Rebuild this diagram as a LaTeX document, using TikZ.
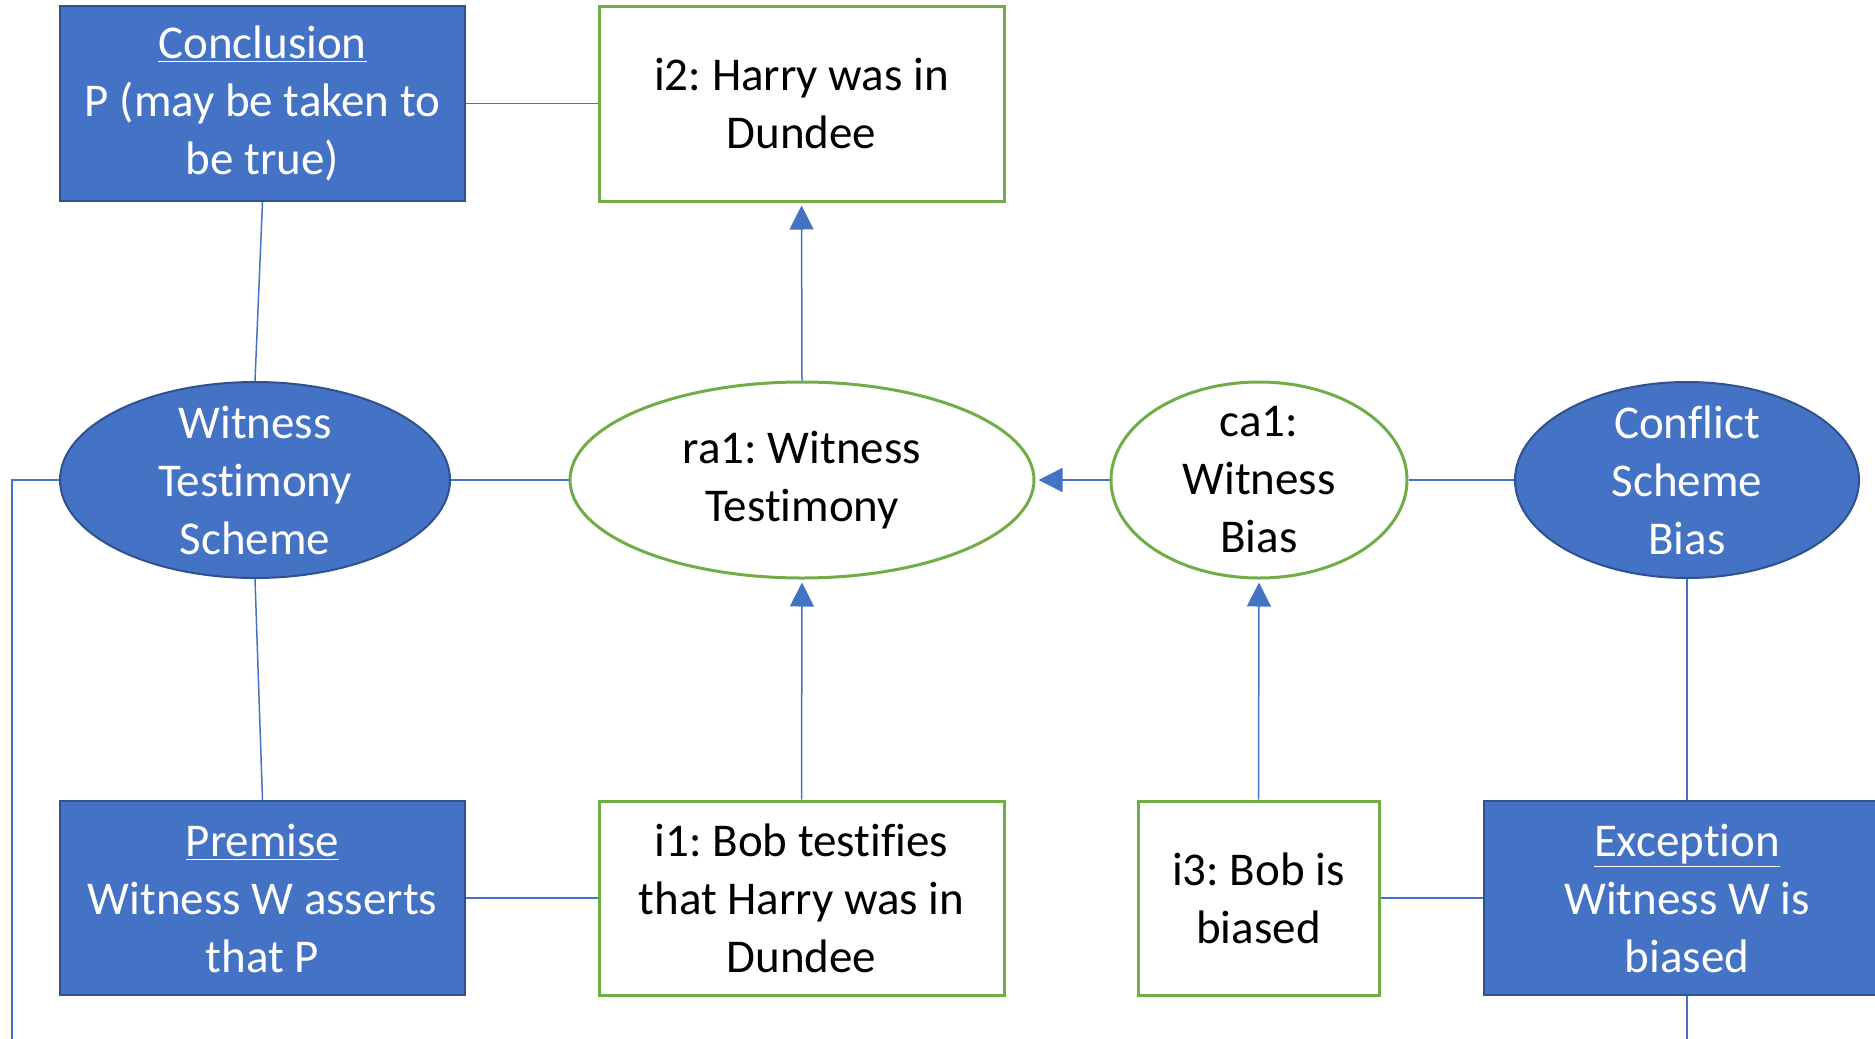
\documentclass[tikz,border=0pt]{standalone}
\usepackage{fontspec}
\setmainfont{Carlito}[Ligatures=NoCommon]
\usetikzlibrary{shapes.geometric,arrows.meta}

\definecolor{schemefill}{HTML}{4472C4}
\definecolor{schemeedge}{HTML}{2F528F}
\definecolor{infoedge}{HTML}{70AD47}
\definecolor{linkblue}{HTML}{4472C4}

\tikzset{
  basetext/.style={font=\fontsize{23.5pt}{29pt}\selectfont\frenchspacing, align=center, inner sep=0pt},
  schemebox/.style={basetext, rectangle, fill=schemefill, draw=schemeedge, line width=1pt, text=white},
  infobox/.style={basetext, rectangle, fill=white, draw=infoedge, line width=1.5pt, text=black},
  schemeell/.style={basetext, ellipse, inner ysep=-20pt, fill=schemefill, draw=schemeedge, line width=1pt, text=white},
  infoell/.style={basetext, ellipse, inner ysep=-20pt, fill=white, draw=infoedge, line width=1.5pt, text=black},
  link/.style={draw=linkblue, line width=0.75pt},
  support/.style={link, -{Triangle[width=12pt,length=12pt]}, shorten >=1.5pt}
}

\begin{document}
\begin{tikzpicture}[x=0.5pt, y=-0.5pt]
  \useasboundingbox (0,0) rectangle (1875,1039);
  \clip (0,0) rectangle (1875,1039);

  % scheme boxes and argument boxes
  \node[schemebox, minimum width=202.5pt, minimum height=97.5pt] (conc) at (262.5,103.5)
    {\underline{Conclusion}\\P (may be taken to\\be true)};
  \node[infobox, minimum width=202.5pt, minimum height=97.5pt] (i2) at (801.5,103.5)
    {i2: Harry was in\\Dundee};
  \node[schemebox, minimum width=202.5pt, minimum height=97pt] (prem) at (262.5,898)
    {\underline{Premise}\\Witness W asserts\\that P};
  \node[infobox, minimum width=202.5pt, minimum height=97pt] (i1) at (801.5,898)
    {i1: Bob testifies\\that Harry was in\\Dundee};
  \node[infobox, minimum width=120.5pt, minimum height=97pt] (i3) at (1258.5,898)
    {i3: Bob is\\biased};
  \node[schemebox, minimum width=203pt, minimum height=97pt] (exc) at (1687,898)
    {\underline{Exception}\\Witness W is\\biased};

  % scheme ellipses and inference nodes
  \node[schemeell, minimum width=195pt, minimum height=98pt] (wts) at (255,480)
    {Witness\\Testimony\\Scheme};
  \node[infoell, minimum width=232pt, minimum height=98pt] (ra1) at (802,480)
    {ra1: Witness\\Testimony};
  \node[infoell, minimum width=148pt, minimum height=98pt] (ca1) at (1259,480)
    {ca1:\\Witness\\Bias};
  \node[schemeell, minimum width=172pt, minimum height=98pt] (csb) at (1687,480)
    {Conflict\\Scheme\\Bias};

  % plain links between scheme parts and instances
  \draw[link] (conc.east) -- (i2.west);
  \draw[link] (conc.south) -- (wts.north);
  \draw[link] (wts.south) -- (prem.north);
  \draw[link] (wts.east) -- (ra1.west);
  \draw[link] (prem.east) -- (i1.west);
  \draw[link] (ca1.east) -- (csb.west);
  \draw[link] (csb.south) -- (exc.north);
  \draw[link] (i3.east) -- (exc.west);

  % link running round the bottom from the scheme to its exception
  \coordinate (loopL) at (12,1080);
  \coordinate (loopR) at (1687,1080);
  \draw[link] (wts.west) -| (loopL) -- (loopR) -- (exc.south);

  % support and conflict arrows
  \draw[support] (ra1.north) -- (i2.south);
  \draw[support] (i1.north) -- (ra1.south);
  \draw[support] (ca1.west) -- (ra1.east);
  \draw[support] (i3.north) -- (ca1.south);
\end{tikzpicture}
\end{document}
